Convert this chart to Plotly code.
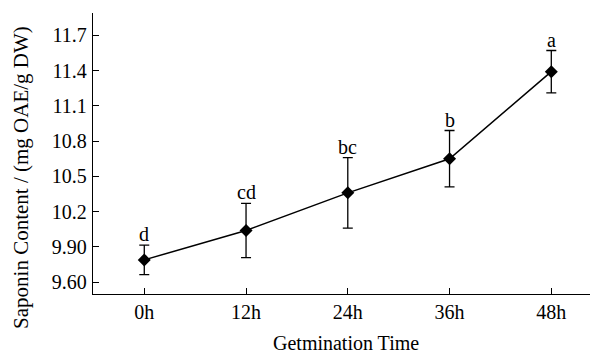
import plotly.graph_objects as go

categories = ["0h", "12h", "24h", "36h", "48h"]
saponin = [9.79, 10.04, 10.36, 10.65, 11.39]
errors = [0.125, 0.23, 0.30, 0.24, 0.18]
letters = ["d", "cd", "bc", "b", "a"]
y_tickvals = [9.6, 9.9, 10.2, 10.5, 10.8, 11.1, 11.4, 11.7]
y_ticktext = ["9.60", "9.90", "10.2", "10.5", "10.8", "11.1", "11.4", "11.7"]

FONT = "Liberation Serif"
OFF = 8  # page body margin
W, H = 598 - OFF, 356 - OFF
L, R, T = 93 - OFF, 0, 13 - OFF
B = H - (294.5 - OFF)
PW, PH = W - L - R, H - T - B

xpos = list(range(len(categories)))

fig = go.Figure()
fig.add_trace(go.Scatter(
    x=xpos, y=saponin, mode="lines+markers",
    line=dict(color="black", width=1.5),
    marker=dict(symbol="diamond", size=10, color="black"),
    error_y=dict(type="data", array=errors, visible=True,
                 color="black", thickness=1.3, width=5),
    showlegend=False,
))

annotations = []
for x, y, e, t in zip(xpos, saponin, errors, letters):
    annotations.append(dict(x=x, y=y + e, text=t, showarrow=False,
                            xanchor="center", yanchor="bottom", yshift=-1,
                            font=dict(family=FONT, size=20, color="black"),
                            borderpad=0))

annotations.append(dict(xref="paper", yref="paper",
                        x=(21.7 - OFF - L) / PW,
                        y=(H - B - (177.5 - OFF)) / PH,
                        text="Saponin Content / (mg OAE/g DW)", textangle=-90,
                        showarrow=False, xanchor="center", yanchor="middle",
                        font=dict(family=FONT, size=21, color="black")))
annotations.append(dict(xref="paper", yref="paper",
                        x=0.5, y=(H - B - (344.0 - OFF)) / PH,
                        text="Getmination Time", showarrow=False,
                        xanchor="center", yanchor="middle", borderpad=0,
                        font=dict(family=FONT, size=20, color="black")))

fig.update_layout(
    width=W, height=H,
    margin=dict(l=L, r=R, t=T, b=B, pad=0),
    plot_bgcolor="white", paper_bgcolor="white",
    font=dict(family=FONT, size=20, color="black"),
    annotations=annotations,
    xaxis=dict(range=[-0.504, 4.459], tickmode="array", tickvals=xpos,
               ticktext=categories, showgrid=False, zeroline=False,
               showline=True, linecolor="black", linewidth=1.3,
               ticks="inside", ticklen=6, tickwidth=1.2, tickcolor="black",
               tickfont=dict(family=FONT, size=20, color="black")),
    yaxis=dict(range=[9.5, 11.889], tickmode="array", tickvals=y_tickvals,
               ticktext=y_ticktext, showgrid=False, zeroline=False,
               showline=True, linecolor="black", linewidth=1.3,
               ticks="inside", ticklen=6, tickwidth=1.2, tickcolor="black",
               ticklabelstandoff=1,
               tickfont=dict(family=FONT, size=20, color="black")),
)

fig.write_html("out.html")
